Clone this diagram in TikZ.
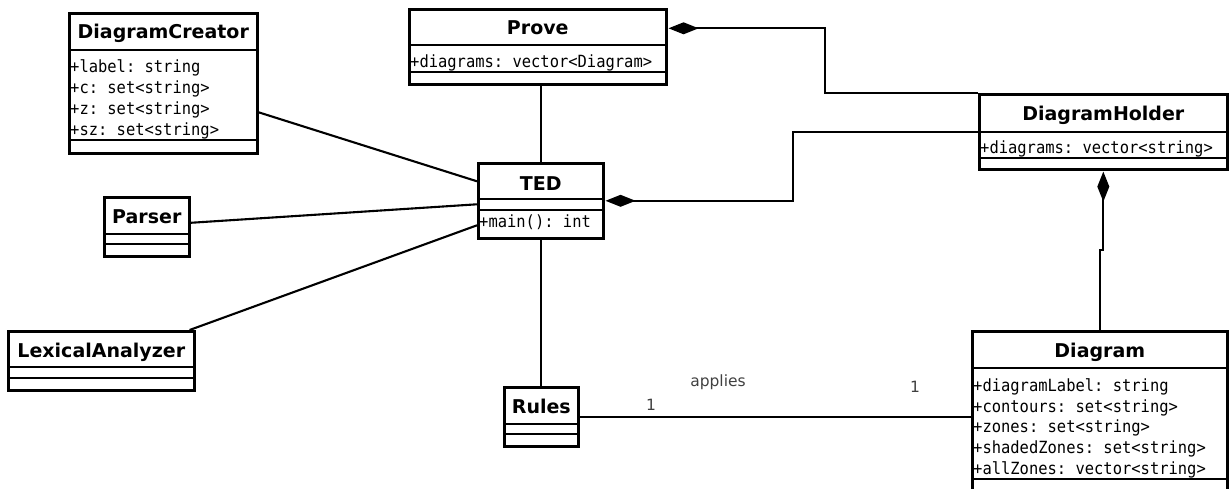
\documentclass[tikz,border=0pt]{standalone}
\usepackage{fontspec}
\setsansfont{DejaVu Sans}
\setmonofont{DejaVu Sans Mono}[FakeStretch=0.92]
\usetikzlibrary{arrows.meta, calc}

\tikzset{
  umlbox/.style={draw, line width=2.6pt, inner sep=0pt, anchor=north west},
  umlline/.style={line width=2.6pt},
  umltitle/.style={font=\sffamily\bfseries\fontsize{19}{21}\selectfont, anchor=base, inner sep=0pt},
  umlattr/.style={font=\ttfamily\fontsize{16.8}{20}\selectfont, anchor=base west, inner sep=0pt},
  link/.style={line width=2.1pt},
  owns/.style={link, {Diamond[length=30pt, width=12pt]}-, shorten <=1pt},
  mult/.style={font=\sffamily\fontsize{15.5}{18}\selectfont, text=black!75}
}

\begin{document}
\begin{tikzpicture}[x=1pt, y=-1pt]
\clip (0,0) rectangle (1230,489);

% classes
\node[umlbox, minimum width=188, minimum height=140] (creator) at (68,12) {};
\node[umltitle] (creator-t) at ($(creator.north)+(0,27)$) {DiagramCreator};
\draw[umlline] (68,50) -- (256,50);
\draw[umlline] (68,140) -- (256,140);
\node[umlattr] (creator-a1) at (70,73) {+label: string};
\node[umlattr] (creator-a2) at (70,94) {+c: set<string>};
\node[umlattr] (creator-a3) at (70,115) {+z: set<string>};
\node[umlattr] (creator-a4) at (70,136) {+sz: set<string>};

\node[umlbox, minimum width=257, minimum height=75] (prove) at (408,8) {};
\node[umltitle] (prove-t) at ($(prove.north)+(0,27)$) {Prove};
\draw[umlline] (408,45) -- (665,45);
\draw[umlline] (408,72) -- (665,72);
\node[umlattr] (prove-a1) at (410,68) {+diagrams: vector<Diagram>};

\node[umlbox, minimum width=125, minimum height=75] (ted) at (477,162) {};
\node[umltitle] (ted-t) at ($(ted.north)+(0,28)$) {TED};
\draw[umlline] (477,199) -- (602,199);
\draw[umlline] (477,210) -- (602,210);
\node[umlattr] (ted-m1) at (479,227) {+main(): int};

\node[umlbox, minimum width=248, minimum height=75] (holder) at (978,93) {};
\node[umltitle] (holder-t) at ($(holder.north)+(0,28)$) {DiagramHolder};
\draw[umlline] (978,132) -- (1226,132);
\draw[umlline] (978,158) -- (1226,158);
\node[umlattr] (holder-a1) at (980,154) {+diagrams: vector<string>};

\node[umlbox, minimum width=85, minimum height=59] (parser) at (103,196) {};
\node[umltitle] (parser-t) at ($(parser.north)+(0,27)$) {Parser};
\draw[umlline] (103,234) -- (188,234);
\draw[umlline] (103,244) -- (188,244);

\node[umlbox, minimum width=186, minimum height=59] (lexer) at (7,330) {};
\node[umltitle] (lexer-t) at ($(lexer.north)+(0,27)$) {LexicalAnalyzer};
\draw[umlline] (7,367) -- (193,367);
\draw[umlline] (7,378) -- (193,378);

\node[umlbox, minimum width=74, minimum height=59] (rules) at (503,386) {};
\node[umltitle] (rules-t) at ($(rules.north)+(0,27)$) {Rules};
\draw[umlline] (503,424) -- (577,424);
\draw[umlline] (503,434) -- (577,434);

\node[umlbox, minimum width=255, minimum height=170] (diagram) at (971,330) {};
\node[umltitle] (diagram-t) at ($(diagram.north)+(0,27)$) {Diagram};
\draw[umlline] (971,368) -- (1226,368);
\draw[umlline] (971,479) -- (1226,479);
\node[umlattr] (diagram-a1) at (973,391) {+diagramLabel: string};
\node[umlattr] (diagram-a2) at (973,412) {+contours: set<string>};
\node[umlattr] (diagram-a3) at (973,432.5) {+zones: set<string>};
\node[umlattr] (diagram-a4) at (973,453) {+shadedZones: set<string>};
\node[umlattr] (diagram-a5) at (973,474) {+allZones: vector<string>};

% associations
\draw[link] ([yshift=-29pt]creator.east) -- ([yshift=19.5pt]ted.west);
\draw[link] ([yshift=4pt]parser.east) -- ([yshift=-3.5pt]ted.west);
\draw[link] ([xshift=-6pt]lexer.north east) -- ([yshift=-24.5pt]ted.west);
\draw[link] (prove.south -| ted.north) -- (ted.north);
\draw[link] (ted.south) -- (ted.south |- rules.north);
\draw[link] (rules.east) -- (rules.east -| diagram.west);
\node[mult] (rules-mult) at (651,405) {1};
\node[mult] (applies) at (718,382) {applies};
\node[mult] (diagram-mult) at (915,387) {1};

% compositions
\draw[owns] ([yshift=18.5pt]prove.east) -- ++(157,0) |- (holder.north west);
\draw[owns] (ted.east) -- ++(188,0) |- (holder.west);
\draw[owns] (holder.south) -- ++(0,79) -| (diagram.north);
\end{tikzpicture}
\end{document}
